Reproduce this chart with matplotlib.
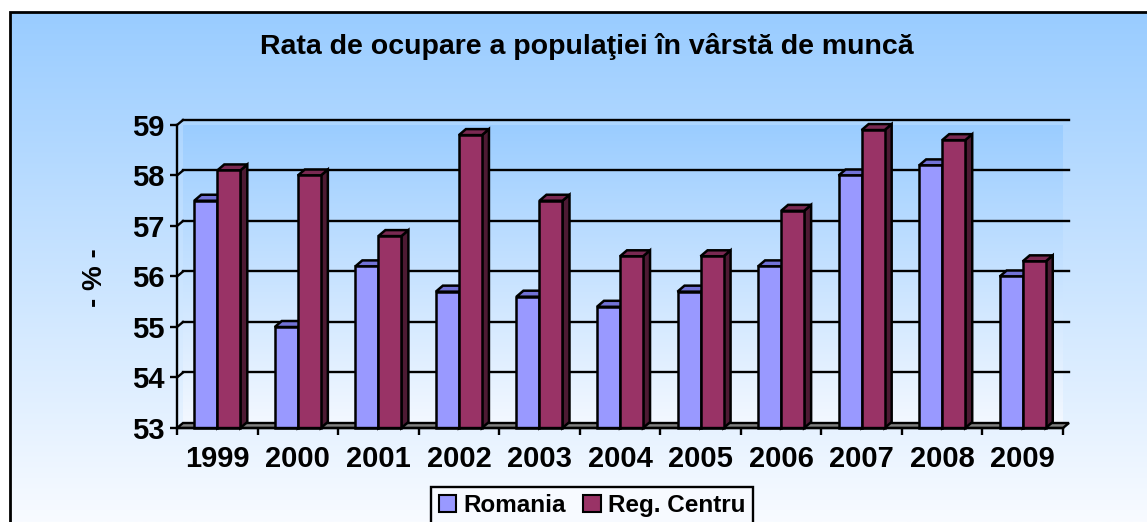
import numpy as np
import matplotlib
matplotlib.use('Agg')
from matplotlib import pyplot as plt
from matplotlib.patches import Polygon, Patch, Rectangle
from matplotlib.colors import LinearSegmentedColormap

plt.rcParams['font.family'] = ['Liberation Sans', 'DejaVu Sans']
plt.rcParams['font.weight'] = 'bold'

# data
years = ['1999', '2000', '2001', '2002', '2003', '2004', '2005', '2006', '2007', '2008', '2009']
romania = [57.5, 55.0, 56.2, 55.7, 55.6, 55.4, 55.7, 56.2, 58.0, 58.2, 56.0]
centru = [58.1, 58.0, 56.8, 58.8, 57.5, 56.4, 56.4, 57.3, 58.9, 58.7, 56.3]
series_names = ['Romania', 'Reg. Centru']
yticks = [53, 54, 55, 56, 57, 58, 59]

W, H = 1147, 522
fig = plt.figure(figsize=(W / 100, H / 100), dpi=100)
fig.patch.set_facecolor('white')

# chart area background (gradient) with frame
bg_cmap = LinearSegmentedColormap.from_list('bg', ['#F8FBFF', '#99CCFF'])
bg = fig.add_axes([10 / W, 0, 1 - 10 / W, (H - 12) / H], zorder=0)
bg.imshow(np.linspace(0, 1, 256).reshape(-1, 1), cmap=bg_cmap, aspect='auto',
          origin='lower', extent=[0, 1, 0, 1])
bg.set_xlim(0, 1)
bg.set_ylim(0, 1)
bg.axis('off')
fig.patches.append(Rectangle((10 / W, -0.01), 1.0, (H - 12) / H + 0.01,
                             transform=fig.transFigure, fill=False,
                             edgecolor='black', lw=2, zorder=1))

# main axes: front plane of the 3d chart
ax_l, ax_r, ax_t, ax_b = 177, 1063, 125, 428
ax = fig.add_axes([ax_l / W, (H - ax_b) / H, (ax_r - ax_l) / W, (ax_b - ax_t) / H], zorder=2)
ax.patch.set_visible(False)
n = len(years)
ax.set_xlim(0, n)
ax.set_ylim(53, 59)

px_x = n / (ax_r - ax_l)
px_y = 6 / (ax_b - ax_t)
wdx, wdy = 6 * px_x, 5 * px_y      # wall depth
bdx, bdy = 7 * px_x, 6 * px_y      # bar depth

# back wall gradient
wall_cmap = LinearSegmentedColormap.from_list('wall', ['#F3F8FF', '#99CCFF'])
ax.imshow(np.linspace(0, 1, 256).reshape(-1, 1), cmap=wall_cmap, aspect='auto',
          origin='lower', extent=[wdx, n + wdx, 53 + wdy, 59 + wdy], zorder=0.5)

# gridlines on back wall + diagonal connectors
for v in yticks[1:]:
    ax.plot([wdx, n + wdx], [v + wdy, v + wdy], color='black', lw=1.7, zorder=1, clip_on=False)
    ax.plot([0, wdx], [v, v + wdy], color='black', lw=1.7, zorder=1, clip_on=False)

# floor
floor = Polygon([(0, 53), (n, 53), (n + wdx, 53 + wdy), (wdx, 53 + wdy)], closed=True,
                facecolor='#808080', edgecolor='black', lw=1.7, zorder=1.5, clip_on=False)
ax.add_patch(floor)

bw = 0.286
x = np.arange(n) + 0.5
styles = [('#9999FF', '#7272D6', '#5A5AB0'), ('#993366', '#7A2952', '#4D1A33')]
z = 2
for i in range(n):
    for k, vals in enumerate([romania, centru]):
        x0 = x[i] - bw + k * bw
        x1 = x0 + bw
        v = vals[i]
        front, top, side = styles[k]
        ax.add_patch(Polygon([(x1, 53), (x1, v), (x1 + bdx, v + bdy), (x1 + bdx, 53 + bdy)],
                             closed=True, facecolor=side, edgecolor='black', lw=1.8,
                             zorder=z, clip_on=False))
        ax.add_patch(Polygon([(x0, v), (x1, v), (x1 + bdx, v + bdy), (x0 + bdx, v + bdy)],
                             closed=True, facecolor=top, edgecolor='black', lw=1.8,
                             zorder=z, clip_on=False))
        ax.bar(x0, v - 53, bw, bottom=53, align='edge', color=front, edgecolor='black',
               lw=1.8, zorder=z + 0.5, clip_on=False)
        z += 1

# axes lines and ticks
for s in ['top', 'right']:
    ax.spines[s].set_visible(False)
ax.spines['left'].set_linewidth(1.7)
ax.spines['bottom'].set_linewidth(1.7)
ax.spines['left'].set_zorder(100)
ax.spines['bottom'].set_zorder(100)
ax.set_yticks(yticks)
ax.set_yticklabels([str(t) for t in yticks], fontsize=21, fontweight='bold')
ax.tick_params(axis='y', direction='out', length=5, width=1.7, pad=4)
ax.set_xticks(x)
ax.set_xticklabels(years, fontsize=21, fontweight='bold')
ax.set_xticks(np.arange(n + 1), minor=True)
ax.tick_params(axis='x', which='major', length=0, pad=12)
ax.tick_params(axis='x', which='minor', direction='out', length=5, width=1.7)

fig.text(95 / W, 1 - 278 / H, '- % -', rotation=90, ha='center', va='center',
         fontsize=20, fontweight='bold')
fig.text(587 / W, 1 - 47 / H, 'Rata de ocupare a populaţiei în vârstă de muncă',
         ha='center', va='center', fontsize=20.5, fontweight='bold')

handles = [Patch(facecolor=styles[0][0], edgecolor='black', lw=1.5),
           Patch(facecolor=styles[1][0], edgecolor='black', lw=1.5)]
leg = fig.legend(handles, series_names, loc='upper center', bbox_to_anchor=(592 / W, 1 - 487 / H),
                 ncol=2, frameon=True, fancybox=False, prop={'size': 17.5, 'weight': 'bold'},
                 handlelength=0.72, handleheight=0.72, handletextpad=0.3, columnspacing=0.7,
                 borderpad=0.3, borderaxespad=0)
leg.get_frame().set_edgecolor('black')
leg.get_frame().set_linewidth(1.7)
leg.get_frame().set_facecolor('#F7FAFF')
leg.get_frame().set_alpha(1)

fig.savefig('out.png', dpi=100)
